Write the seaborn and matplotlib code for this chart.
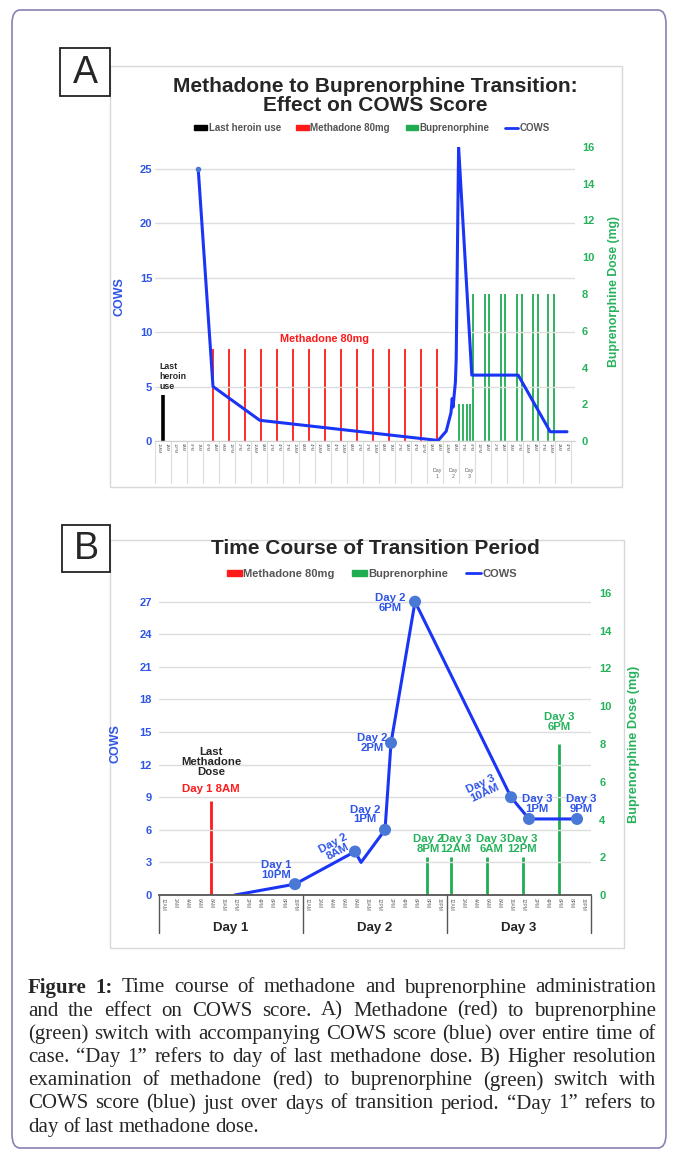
import numpy as np
import pandas as pd
import seaborn as sns
import matplotlib
matplotlib.use('Agg')
import matplotlib.pyplot as plt
from matplotlib.patches import Rectangle, Patch, FancyBboxPatch
from matplotlib.lines import Line2D
import matplotlib.transforms as mtransforms

# ---------------- data ----------------
# panel A : x = time slot index along the whole case
a_heroin_x = [1.0]
a_heroin_dose = [2.5]
a_methadone_x = [7.25, 9.25, 11.25, 13.25, 15.25, 17.25, 19.25, 21.25, 23.25, 25.25,
                 27.25, 29.25, 31.25, 33.25, 35.25]
a_methadone_dose = [5] * 15
a_bup_x = [38.0, 38.5, 39.0, 39.4,
           39.75, 41.25, 41.8, 43.25, 43.75, 45.25, 45.9, 47.25, 47.9, 49.1, 49.9]
a_bup_dose = [2, 2, 2, 2,
              8, 8, 8, 8, 8, 8, 8, 8, 8, 8, 8]
a_cows_x = [5.4, 7.25, 13.1, 35.4, 36.4, 37.0, 37.15, 37.25, 37.55, 37.65, 37.95,
            39.6, 45.4, 49.4, 51.5]
a_cows = [25, 5, 1.9, 0.05, 0.9, 2.6, 3.9, 3.1, 5.4, 7.5, 27, 6.05, 6.05, 0.85, 0.85]
a_slot_labels = ["12AM", "1AM", "10PM", "8AM", "9PM", "7AM", "6PM", "4AM", "6AM", "12PM",
                 "2PM", "4PM", "12AM", "8AM", "1PM", "4PM", "7PM", "12AM", "8AM", "4PM",
                 "12AM", "8AM", "4PM", "12AM", "8AM", "1PM", "3PM", "12AM", "8AM", "7AM",
                 "2PM", "9AM", "4PM", "11PM", "9AM", "8AM", "10AM", "8AM", "7PM", "6PM",
                 "11PM", "4AM", "2PM", "1AM", "7AM", "3PM", "10AM", "4AM", "7PM", "12AM",
                 "2AM", "4PM"]
a_day_x = [35.25, 37.25, 39.25]
a_day_labels = ["Day\n1", "Day\n2", "Day\n3"]

# panel B : x = hours from Day 1 12AM
b_methadone_h = [8]
b_methadone_dose = [5]
b_bup_h = [44, 48, 54, 60, 66]
b_bup_dose = [2, 2, 2, 2, 8]
b_cows_h = [12, 22, 32, 33, 37, 38, 42, 58, 61, 69]
b_cows = [0, 1, 4, 3, 6, 14, 27, 9, 7, 7]
b_marker_h = [22, 32, 37, 38, 42, 58, 61, 69]
b_marker_cows = [1, 4, 6, 14, 27, 9, 7, 7]
b_hour_labels = ["12AM", "2AM", "4AM", "6AM", "8AM", "10AM",
                 "12PM", "2PM", "4PM", "6PM", "8PM", "10PM"]
b_days = ["Day 1", "Day 2", "Day 3"]

caption = [
    "Figure 1: Time course of methadone and buprenorphine administration",
    "and the effect on COWS score. A) Methadone (red) to buprenorphine",
    "(green) switch with accompanying COWS score (blue) over entire time of",
    "case. \u201cDay 1\u201d refers to day of last methadone dose. B) Higher resolution",
    "examination of methadone (red) to buprenorphine (green) switch with",
    "COWS score (blue) just over days of transition period. \u201cDay 1\u201d refers to",
    "day of last methadone dose.",
]

# ---------------- style ----------------
sns.set_style('white')
plt.rcParams['font.family'] = ['Liberation Sans', 'DejaVu Sans']

BLUE = '#1a35f5'
BLUE_TXT = '#2f55e8'
MARK = '#4a78d6'
RED = '#ff1a1a'
GREEN = '#1fad52'
GREEN_TXT = '#26b25c'
GRID = '#dddddd'

W, H = 675, 1153
fig = plt.figure(figsize=(W / 100, H / 100), dpi=100)


def fx(px):
    return px / W


def fy(py):
    return 1 - py / H


def rect(x0, y0, x1, y1, **kw):
    fig.add_artist(Rectangle((fx(x0), fy(y1)), fx(x1) - fx(x0), fy(y0) - fy(y1),
                             transform=fig.transFigure, fill=False, **kw))


# outer border
fig.add_artist(FancyBboxPatch((fx(12), fy(1148)), fx(666) - fx(12), fy(10) - fy(1148),
                              boxstyle='round,pad=0,rounding_size=0.012',
                              transform=fig.transFigure, fill=False,
                              edgecolor='#8a80b4', linewidth=1.2))

# panel frames and letter boxes
rect(110, 66, 622, 487, edgecolor='#d8d8d8', linewidth=1)
rect(110, 540, 624, 948, edgecolor='#d8d8d8', linewidth=1)
rect(60, 48, 110, 96, edgecolor='#222222', linewidth=1.3)
rect(62, 525, 110, 572, edgecolor='#222222', linewidth=1.3)
fig.text(fx(85), fy(73), 'A', fontsize=27, ha='center', va='center')
fig.text(fx(86), fy(549), 'B', fontsize=27, ha='center', va='center')


def style_axes(ax, ax2, lpad, rpad):
    ax.tick_params(axis='y', colors=BLUE_TXT, labelsize=8, length=0, pad=lpad)
    ax2.tick_params(axis='y', colors=GREEN_TXT, labelsize=8, length=0, pad=rpad)
    for lbl in ax.get_yticklabels() + ax2.get_yticklabels():
        lbl.set_fontweight('bold')
    for sp in ['top', 'left', 'right']:
        ax.spines[sp].set_visible(False)
        ax2.spines[sp].set_visible(False)
    ax2.spines['bottom'].set_visible(False)
    ax.grid(axis='y', color=GRID, linewidth=1)
    ax.grid(axis='x', visible=False)
    ax2.grid(False)
    ax.set_zorder(ax2.get_zorder() + 1)
    ax.patch.set_visible(False)


def legend(handles, labels, y, size):
    fig.legend(handles, labels, loc='center', bbox_to_anchor=(fx(372), fy(y)), ncol=len(labels),
               frameon=False, prop={'size': size, 'weight': 'bold'}, labelcolor='#555555',
               handlelength=1.3, handleheight=0.55, handletextpad=0.15, columnspacing=1.6)


# ================= Panel A =================
fig.text(fx(375), fy(96), 'Methadone to Buprenorphine Transition:\nEffect on COWS Score',
         fontsize=15, fontweight='bold', ha='center', va='center', linespacing=1.02)
legend([Patch(color='black'), Patch(color=RED), Patch(color=GREEN), Line2D([], [], color=BLUE, lw=2)],
       ['Last heroin use', 'Methadone 80mg', 'Buprenorphine', 'COWS'], 128, 7)

axA = fig.add_axes([fx(155), fy(441), (575 - 155) / W, (441 - 147) / H])
axA2 = axA.twinx()
axA2.vlines(a_heroin_x, 0, a_heroin_dose, color='black', linewidth=2.6)
axA2.vlines(a_methadone_x, 0, a_methadone_dose, color=RED, linewidth=1.3)
axA2.vlines(a_bup_x, 0, a_bup_dose, color=GREEN, linewidth=1.3)
dfA = pd.DataFrame({'slot': a_cows_x, 'cows': a_cows})
sns.lineplot(data=dfA, x='slot', y='cows', ax=axA, color=BLUE, linewidth=2.2,
             estimator=None, sort=False)
axA.plot(a_cows_x[:1], a_cows[:1], 'o', color=MARK, markersize=3)

axA.set_xlim(0, 52.5)
axA.set_ylim(0, 27)
axA2.set_ylim(0, 16)
axA.set_yticks([0, 5, 10, 15, 20, 25])
axA2.set_yticks(range(0, 17, 2))
style_axes(axA, axA2, 2, 5)
axA.spines['bottom'].set_color('#d0d0d0')
axA.set_xticks(np.arange(len(a_slot_labels)) + 0.5)
axA.set_xticklabels(a_slot_labels, rotation=-90, fontsize=2.8, color='#666666')
axA.tick_params(axis='x', length=0, pad=1.5)
axA.set_xlabel('')
axA.set_ylabel('COWS', color=BLUE_TXT, fontsize=9, fontweight='bold')
axA.yaxis.set_label_coords(-0.071, 0.49)
axA2.set_ylabel('Buprenorphine Dose (mg)', color=GREEN_TXT, fontsize=8.8, fontweight='bold')
axA2.yaxis.set_label_coords(1.078, 0.51)

trA = mtransforms.blended_transform_factory(axA.transData, axA.transAxes)
for s in range(0, 53, 2):
    axA.plot([s, s], [0, -42 / 294], color='#dddddd', linewidth=0.8, transform=trA, clip_on=False)
for x, lab in zip(a_day_x, a_day_labels):
    axA.text(x, -0.11, lab, transform=trA, fontsize=3.8, color='#666666', ha='center', va='center')

axA.text(0.6, 5.9, 'Last\nheroin\nuse', fontsize=6.3, fontweight='bold', ha='left', va='center',
         linespacing=1.15)
axA.text(21.25, 9.4, 'Methadone 80mg', fontsize=7.8, fontweight='bold', color=RED,
         ha='center', va='center')

# ================= Panel B =================
fig.text(fx(375), fy(549), 'Time Course of Transition Period', fontsize=15, fontweight='bold',
         ha='center', va='center')
legend([Patch(color=RED), Patch(color=GREEN), Line2D([], [], color=BLUE, lw=2)],
       ['Methadone 80mg', 'Buprenorphine', 'COWS'], 574, 8)

axB = fig.add_axes([fx(159), fy(895), (591 - 159) / W, (895 - 593) / H])
axB2 = axB.twinx()
axB2.vlines(b_methadone_h, 0, b_methadone_dose, color=RED, linewidth=2)
axB2.vlines(b_bup_h, 0, b_bup_dose, color=GREEN, linewidth=2)
dfB = pd.DataFrame({'hour': b_cows_h, 'cows': b_cows})
sns.lineplot(data=dfB, x='hour', y='cows', ax=axB, color=BLUE, linewidth=2.2,
             estimator=None, sort=False)
dfM = pd.DataFrame({'hour': b_marker_h, 'cows': b_marker_cows})
sns.scatterplot(data=dfM, x='hour', y='cows', ax=axB, color=MARK, s=75, edgecolor='none', zorder=5)

axB.set_xlim(-0.67, 71.33)
axB.set_ylim(0, 27.8)
axB2.set_ylim(0, 16)
axB.set_yticks(range(0, 28, 3))
axB2.set_yticks(range(0, 17, 2))
style_axes(axB, axB2, 5, 6)
axB.spines['bottom'].set_color('#555555')
axB.spines['bottom'].set_linewidth(1.3)
hours = np.arange(0, 72, 2)
axB.set_xticks(hours)
axB.set_xticklabels(b_hour_labels * 3, rotation=-90, fontsize=3.5, color='#666666')
axB.tick_params(axis='x', length=0, pad=2)
axB.set_xlabel('')
axB.set_ylabel('COWS', color=BLUE_TXT, fontsize=9, fontweight='bold')
axB.yaxis.set_label_coords(-0.086, 0.5)
axB2.set_ylabel('Buprenorphine Dose (mg)', color=GREEN_TXT, fontsize=9.2, fontweight='bold')
axB2.yaxis.set_label_coords(1.086, 0.5)

trB = mtransforms.blended_transform_factory(axB.transData, axB.transAxes)
for s in [-0.67, 23.33, 47.33, 71.33]:
    axB.plot([s, s], [0, -38 / 302], color='#555555', linewidth=1, transform=trB, clip_on=False)
for i, d in enumerate(b_days):
    axB.text(11.33 + 24 * i, -0.109, d, transform=trB, fontsize=9.5, fontweight='bold',
             ha='center', va='center')

fsB = 8.2
axB.text(8, 12.2, 'Last\nMethadone\nDose', fontsize=fsB, fontweight='bold', ha='center',
         va='center', linespacing=1.0)
axB.text(8, 9.8, 'Day 1 8AM', fontsize=fsB, fontweight='bold', color=RED, ha='center', va='center')
blue_notes = [(18.8, 2.3, 'Day 1\n10PM', 0), (28.7, 4.4, 'Day 2\n8AM', 28),
              (33.7, 7.4, 'Day 2\n1PM', 0), (34.8, 14.0, 'Day 2\n2PM', 0),
              (37.8, 26.9, 'Day 2\n6PM', 0), (53.3, 9.8, 'Day 3\n10AM', 25),
              (62.3, 8.4, 'Day 3\n1PM', 0), (69.7, 8.4, 'Day 3\n9PM', 0)]
for x, y, t, r in blue_notes:
    axB.text(x, y, t, fontsize=fsB, fontweight='bold', color=BLUE_TXT, ha='center', va='center',
             rotation=r, linespacing=0.95, zorder=6)
green_notes = [(44.2, 2.7, 'Day 2\n8PM'), (48.8, 2.7, 'Day 3\n12AM'), (54.7, 2.7, 'Day 3\n6AM'),
               (59.8, 2.7, 'Day 3\n12PM'), (66.0, 9.15, 'Day 3\n6PM')]
for x, y, t in green_notes:
    axB2.text(x, y, t, fontsize=fsB, fontweight='bold', color=GREEN_TXT, ha='center',
              va='center', linespacing=0.95)

# ================= caption (justified) =================
renderer = fig.canvas.get_renderer()
left, right = 28, 656
for i, line in enumerate(caption):
    words = line.split(' ')
    y = fy(988 + i * 23.2)
    objs = []
    for j, w in enumerate(words):
        bold = (i == 0 and j < 2)
        objs.append(fig.text(0, y, w, fontsize=15, family='Liberation Serif',
                             fontweight='bold' if bold else 'normal', va='center'))
    widths = [t.get_window_extent(renderer).width for t in objs]
    if i < len(caption) - 1:
        gap = (right - left - sum(widths)) / (len(words) - 1)
    else:
        gap = 4.5
    x = left
    for t, w in zip(objs, widths):
        t.set_x(fx(x))
        x += w + gap

fig.savefig('out.png', dpi=100)
